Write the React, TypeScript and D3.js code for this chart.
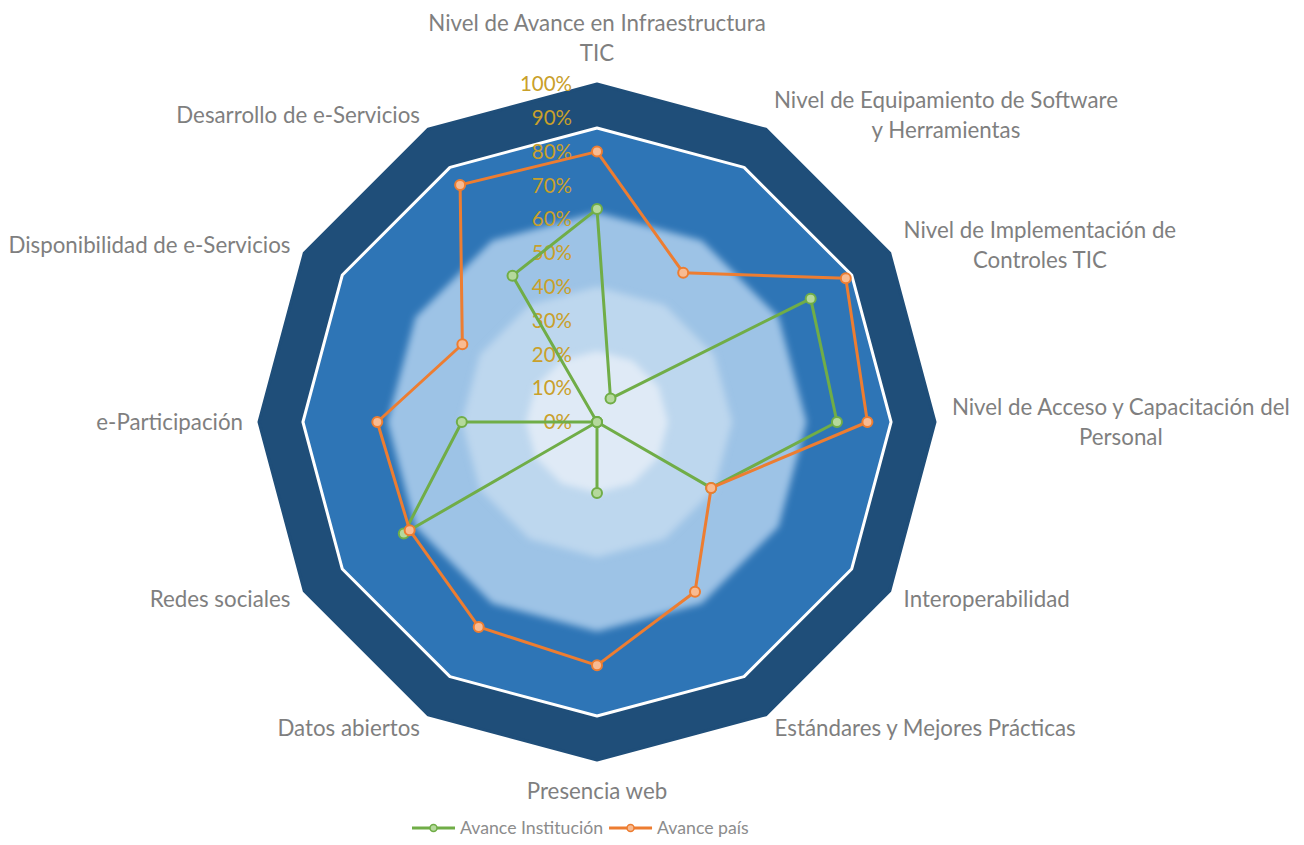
import React from 'react'
import * as d3 from 'd3'

// axis labels, clockwise from the top ("\n" = line break as in the original)
const categories = [
  'Nivel de Avance en Infraestructura\nTIC',
  'Nivel de Equipamiento de Software\ny Herramientas',
  'Nivel de Implementación de\nControles TIC',
  'Nivel de Acceso y Capacitación del\nPersonal',
  'Interoperabilidad',
  'Estándares y Mejores Prácticas',
  'Presencia web',
  'Datos abiertos',
  'Redes sociales',
  'e-Participación',
  'Disponibilidad de e-Servicios',
  'Desarrollo de e-Servicios',
]
const avanceInstitucion = [63, 8, 73, 71, 39, 0, 21, 0, 66, 40, 0, 50]
const avancePais = [80, 51, 85, 80, 39, 58, 72, 70, 64, 65, 46, 81]
const tickValues = [0, 10, 20, 30, 40, 50, 60, 70, 80, 90, 100]
// background filled bands (%)
const bandLevels = [100, 87, 62, 40, 21]
const bandColors = ['#1f4e79', '#2e75b6', '#9dc3e6', '#bdd7ee', '#dfeaf6']

const W = 1304
const H = 845
const cx = 597
const cy = 422
const R = 338
const labelR = 354
const FONT = 'Lato, "Open Sans", sans-serif'
const labelSize = 22.3
const tickSize = 20.5
const legendSize = 17.7
const lineH = 30

let ctx: CanvasRenderingContext2D | null = null
const measure = (txt: string, size: number) => {
  if (!ctx) ctx = document.createElement('canvas').getContext('2d')
  if (!ctx) return txt.length * size * 0.5
  ctx.font = `${size}px Lato`
  return ctx.measureText(txt).width
}

export default function App() {
  const n = categories.length
  const rScale = d3.scaleLinear().domain([0, 100]).range([0, R])
  const angle = (i: number) => (i * 2 * Math.PI) / n

  const ring = d3
    .lineRadial<number>()
    .angle((_d, i) => angle(i))
    .radius(d => rScale(d))
    .curve(d3.curveLinearClosed)

  const series = [
    { name: 'Avance Institución', values: avanceInstitucion, color: '#70ad47', fill: '#b5d99c' },
    { name: 'Avance país', values: avancePais, color: '#ed7d31', fill: '#f8bb92' },
  ]

  const labels = categories.map((c, i) => {
    const a = angle(i)
    const [px, py] = d3.pointRadial(a, labelR)
    const lines = c.split('\n')
    const widths = lines.map(l => measure(l, labelSize))
    const bw = Math.max(...widths)
    const s = Math.sin(a)
    const co = Math.cos(a)
    let midX = px
    if (s > 0.01) midX = px + bw / 2
    else if (s < -0.01) midX = px - bw / 2
    const bh = lines.length * lineH
    let top = py - bh / 2
    if (co > 0.99) top = py - bh
    else if (co < -0.99) top = py
    return { lines, midX, top, key: i }
  })

  // legend layout
  let lx = 412
  const legendItems = series.map(s => {
    const item = { ...s, x: lx }
    lx += 43 + 5 + measure(s.name, legendSize) + 6
    return item
  })

  return (
    <svg width={W} height={H} style={{ position: 'absolute', left: 0, top: 0 }} fontFamily={FONT}>
      <defs>
        <filter id="soft" x="-20%" y="-20%" width="140%" height="140%">
          <feGaussianBlur stdDeviation="3.5" />
        </filter>
      </defs>
      <rect width={W} height={H} fill="#ffffff" />
      <g transform={`translate(${cx},${cy})`}>
        {bandLevels.map((lvl, k) => (
          <path
            key={lvl}
            d={ring(d3.range(n).map(() => lvl)) || ''}
            fill={bandColors[k]}
            stroke={k === 1 ? '#ffffff' : k === 0 ? bandColors[0] : 'none'}
            strokeWidth={3}
            strokeLinejoin="round"
            filter={k >= 2 ? 'url(#soft)' : undefined}
          />
        ))}
        {tickValues.map(t => (
          <text
            key={t}
            x={-25}
            y={-rScale(t)}
            dy="0.35em"
            textAnchor="end"
            fontSize={tickSize}
            fill="#c9a02a"
          >
            {t}%
          </text>
        ))}
        {series.map(s => (
          <g key={s.name}>
            <path
              d={ring(s.values) || ''}
              fill="none"
              stroke={s.color}
              strokeWidth={3}
              strokeLinejoin="round"
            />
            {s.values.map((v, i) => {
              const [x, y] = d3.pointRadial(angle(i), rScale(v))
              return <circle key={i} cx={x} cy={y} r={5} fill={s.fill} stroke={s.color} strokeWidth={2} />
            })}
          </g>
        ))}
        {labels.map(l => (
          <text key={l.key} textAnchor="middle" fontSize={labelSize} fill="#7f7f7f">
            {l.lines.map((ln, j) => (
              <tspan key={j} x={l.midX} y={l.top + lineH * j + lineH / 2} dy="0.35em">
                {ln}
              </tspan>
            ))}
          </text>
        ))}
      </g>
      <g transform="translate(0,828)">
        {legendItems.map(s => (
          <g key={s.name} transform={`translate(${s.x},0)`}>
            <line x1={0} x2={43} y1={0} y2={0} stroke={s.color} strokeWidth={3} />
            <circle cx={21.5} cy={0} r={3.5} fill={s.fill} stroke={s.color} strokeWidth={1.5} />
            <text x={48} y={0} dy="0.35em" fontSize={legendSize} fill="#8c8c8c">
              {s.name}
            </text>
          </g>
        ))}
      </g>
    </svg>
  )
}
